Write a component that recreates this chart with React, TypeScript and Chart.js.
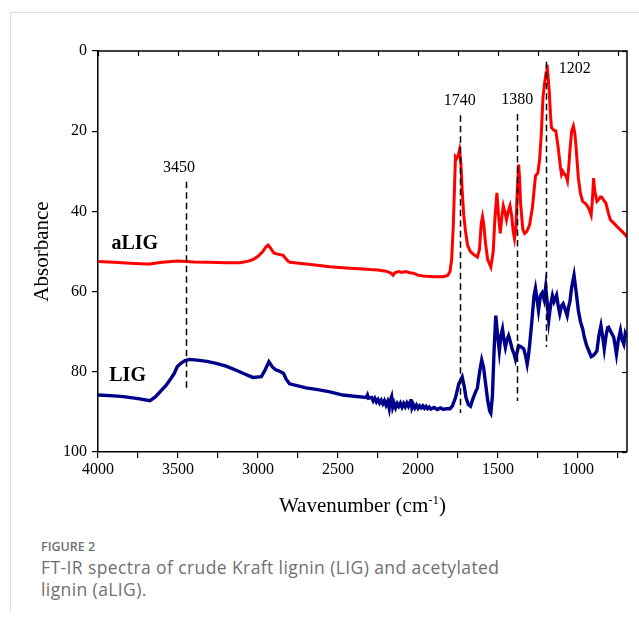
import React, { useEffect, useRef } from "react";
import { Chart, registerables } from "chart.js";

Chart.register(...registerables);

// Acetylated lignin (aLIG) spectrum
const aligWavenumber = [
  4000, 3900, 3800, 3700, 3675, 3600, 3500, 3400, 3300, 3200, 3112, 3060, 3031, 3000, 2970, 2950, 2937, 2925,
  2900, 2881, 2860, 2844, 2830, 2810, 2800, 2700, 2631, 2550, 2450, 2319, 2300, 2250, 2200, 2170, 2156, 2145,
  2120, 2100, 2080, 2050, 2030, 2000, 1969, 1900, 1844, 1815, 1800, 1790, 1780, 1772, 1766, 1758, 1750, 1741,
  1732, 1724, 1714, 1703, 1690, 1672, 1650, 1629, 1616, 1605, 1597, 1590, 1578, 1565, 1545, 1530, 1520, 1507,
  1497, 1486, 1475, 1467, 1458, 1447, 1436, 1425, 1415, 1405, 1397, 1388, 1380, 1371, 1365, 1359, 1345, 1334,
  1320, 1303, 1285, 1266, 1251, 1240, 1230, 1219, 1209, 1200, 1194, 1188, 1180, 1172, 1166, 1150, 1139, 1124,
  1110, 1103, 1095, 1086, 1075, 1066, 1058, 1051, 1040, 1029, 1020, 1012, 998, 985, 971, 955, 946, 930, 918,
  910, 903, 895, 882, 870, 860, 851, 840, 826, 810, 798, 780, 756, 730, 710, 694,
];
const aligAbsorbance = [
  52.5, 52.7, 52.9, 53.1, 53.1, 52.7, 52.4, 52.6, 52.7, 52.8, 52.8, 52.4, 52.0, 51.2, 50.0, 48.8, 48.4, 49.0,
  50.4, 50.6, 50.8, 50.9, 51.6, 52.5, 52.7, 53.1, 53.4, 53.8, 54.1, 54.4, 54.5, 54.6, 54.9, 55.4, 55.9, 55.3,
  55.0, 55.2, 55.0, 55.3, 55.4, 55.9, 56.1, 56.3, 56.3, 56.0, 55.0, 52.0, 44.0, 34.0, 26.4, 26.8, 26.2, 24.7,
  28.0, 34.9, 41.0, 45.0, 48.5, 50.1, 50.8, 51.4, 49.5, 43.0, 41.3, 43.0, 48.0, 52.0, 53.9, 50.0, 42.0, 35.4,
  41.0, 45.5, 41.0, 38.6, 40.0, 42.1, 40.0, 38.6, 41.0, 45.0, 46.8, 44.0, 35.0, 28.3, 32.0, 38.0, 44.5, 45.5,
  45.0, 43.4, 39.0, 31.2, 30.4, 27.0, 21.0, 11.5, 8.0, 5.5, 3.4, 6.0, 10.0, 16.0, 19.1, 19.8, 19.9, 24.1,
  29.0, 30.8, 30.0, 30.7, 31.2, 32.4, 29.0, 24.9, 20.0, 18.7, 20.5, 24.1, 31.7, 35.5, 37.5, 38.0, 38.4, 39.5, 40.9,
  37.0, 31.7, 35.0, 37.5, 37.0, 36.4, 36.5, 37.2, 37.9, 40.5, 42.1, 42.8, 43.8, 44.8, 45.6, 46.4,
];

// Crude Kraft lignin (LIG) spectrum
const ligWavenumber = [
  4000, 3900, 3842, 3750, 3675, 3640, 3601, 3575, 3550, 3525, 3504, 3480, 3456, 3428, 3380, 3320, 3261, 3200,
  3136, 3080, 3032, 2979, 2955, 2932, 2910, 2890, 2875, 2850, 2840, 2825, 2803, 2750, 2700, 2636, 2550, 2470,
  2400, 2323, 2316, 2310, 2290, 2280, 2270, 2260, 2250, 2240, 2230, 2220, 2210, 2200, 2190, 2180, 2172, 2165,
  2158, 2150, 2140, 2130, 2120, 2110, 2100, 2090, 2080, 2070, 2060, 2050, 2044, 2038, 2030, 2020, 2010, 2000,
  1990, 1980, 1970, 1960, 1950, 1940, 1930, 1920, 1900, 1880, 1860, 1840, 1824, 1800, 1785, 1766, 1745, 1724,
  1712, 1700, 1685, 1672, 1655, 1640, 1629, 1615, 1602, 1590, 1577, 1565, 1552, 1545, 1535, 1525, 1514, 1505,
  1492, 1482, 1472, 1463, 1454, 1444, 1434, 1423, 1412, 1400, 1391, 1380, 1371, 1355, 1339, 1328, 1318, 1310,
  1303, 1290, 1275, 1266, 1256, 1247, 1235, 1224, 1212, 1202, 1192, 1183, 1170, 1160, 1150, 1134, 1124, 1114,
  1103, 1093, 1080, 1068, 1060, 1051, 1040, 1025, 1012, 998, 985, 971, 960, 946, 930, 918, 908, 895, 882, 870,
  857, 845, 836, 825, 815, 809, 795, 777, 768, 760, 748, 735, 725, 714, 705, 694,
];
const ligAbsorbance = [
  85.8, 86.0, 86.2, 86.7, 87.2, 86.2, 84.5, 83.4, 82.0, 80.5, 78.7, 77.8, 77.2, 76.9, 77.1, 77.4, 77.9, 78.6,
  79.6, 80.6, 81.4, 81.2, 79.5, 77.5, 78.8, 79.5, 79.7, 80.2, 80.4, 81.8, 83.0, 83.5, 84.0, 84.4, 85.0, 85.8,
  86.1, 86.4, 85.8, 86.6, 86.4, 87.3, 86.6, 87.5, 86.9, 87.8, 87.1, 88.0, 87.2, 88.3, 87.4, 89.2, 87.0, 86.2,
  88.8, 87.8, 89.0, 87.9, 88.6, 87.8, 88.8, 87.9, 88.7, 87.8, 88.6, 87.6, 86.8, 88.9, 88.1, 89.0, 88.3, 89.1,
  88.5, 89.0, 88.5, 89.1, 88.6, 89.2, 88.8, 89.3, 88.9, 89.4, 89.0, 89.4, 89.2, 89.2, 88.5, 86.5, 83.0, 81.3,
  83.5, 86.5, 88.2, 88.6, 86.5, 85.0, 84.0, 80.0, 77.1, 79.0, 83.2, 87.0, 89.8, 90.3, 86.0, 75.0, 66.0, 70.0,
  74.8, 71.0, 69.3, 72.0, 73.9, 72.0, 71.0, 72.5, 74.3, 75.5, 76.9, 75.0, 73.5, 73.8, 74.3, 76.0, 78.1, 76.0,
  73.5, 68.0, 61.0, 59.2, 62.0, 64.7, 61.0, 60.3, 62.0, 58.8, 63.0, 67.2, 63.0, 61.0, 62.5, 60.9, 63.5, 65.5,
  63.5, 63.0, 64.5, 66.0, 64.0, 62.6, 59.0, 55.9, 60.0, 64.7, 67.5, 69.3, 71.5, 73.5, 75.0, 76.2, 76.0, 75.5, 74.8, 71.0,
  68.5, 71.5, 74.3, 71.0, 69.0, 68.9, 70.0, 71.4, 73.5, 75.6, 72.0, 69.7, 72.0, 73.1, 70.5, 71.6,
];

// Axis ticks (every 250 cm-1 on x, labelled every 500; every 20 on y)
const xTickValues = [4000, 3750, 3500, 3250, 3000, 2750, 2500, 2250, 2000, 1750, 1500, 1250, 1000, 750];
const yTickValues = [0, 20, 40, 60, 80, 100];

// Band markers: wavenumber, dashed span (absorbance units) and label text
const markerWave = [3450, 1740, 1380, 1202];
const markerTop = [32.6, 16.0, 15.7, 2.7];
const markerBottom = [85.0, 90.3, 87.3, 73.8];
const markerText = ["3450", "1740", "1380", "1202"];

// Series names written beside the traces
const seriesNames = ["aLIG", "LIG"];
const seriesNameWave = [3770, 3815];
const seriesNameAbs = [48.0, 81.0];
const seriesColors = ["#ff0000", "#00008b"];

const SERIF = '"Liberation Serif", "Times New Roman", serif';

const decorPlugin = {
  id: "decor",
  afterDatasetsDraw(chart: any) {
    const { ctx, chartArea: a, scales } = chart;
    const x = scales.x;
    const y = scales.y;
    ctx.save();

    // dashed band markers
    ctx.strokeStyle = "#000";
    ctx.lineWidth = 1.5;
    ctx.setLineDash([6.5, 4]);
    markerWave.forEach((w, i) => {
      const px = Math.round(x.getPixelForValue(w)) + 0.5;
      ctx.beginPath();
      ctx.moveTo(px, y.getPixelForValue(markerTop[i]));
      ctx.lineTo(px, y.getPixelForValue(markerBottom[i]));
      ctx.stroke();
    });
    ctx.setLineDash([]);

    // marker labels
    ctx.fillStyle = "#000";
    ctx.font = `16px ${SERIF}`;
    ctx.textAlign = "center";
    ctx.textBaseline = "middle";
    markerWave.forEach((w, i) => {
      const px = x.getPixelForValue(w);
      const py = y.getPixelForValue(markerTop[i]);
      if (markerText[i] === "1202") {
        ctx.fillText(markerText[i], px + 29, py + 7);
      } else {
        ctx.fillText(markerText[i], px - (i === 0 ? 7 : 0), py - 14);
      }
    });

    // series names
    ctx.font = `bold 20px ${SERIF}`;
    seriesNames.forEach((name, i) => {
      ctx.fillText(name, x.getPixelForValue(seriesNameWave[i]), y.getPixelForValue(seriesNameAbs[i]));
    });

    // top and right frame with inward ticks
    ctx.strokeStyle = "#000";
    ctx.lineWidth = 1.5;
    ctx.beginPath();
    ctx.moveTo(a.left, a.top);
    ctx.lineTo(a.right, a.top);
    ctx.lineTo(a.right, a.bottom);
    ctx.stroke();
    ctx.lineWidth = 1.2;
    x.ticks.forEach((t: any) => {
      const px = Math.round(x.getPixelForValue(t.value)) + 0.5;
      ctx.beginPath();
      ctx.moveTo(px, a.top);
      ctx.lineTo(px, a.top + 5);
      ctx.stroke();
    });
    y.ticks.forEach((t: any) => {
      const py = Math.round(y.getPixelForValue(t.value)) + 0.5;
      ctx.beginPath();
      ctx.moveTo(a.right, py);
      ctx.lineTo(a.right - 5, py);
      ctx.stroke();
    });

    // axis titles
    ctx.fillStyle = "#000";
    ctx.textBaseline = "alphabetic";
    ctx.textAlign = "left";
    const big = `21px ${SERIF}`;
    const small = `13px ${SERIF}`;
    const p1 = "Wavenumber (cm";
    const p2 = "-1";
    const p3 = ")";
    ctx.font = big;
    const w1 = ctx.measureText(p1).width;
    const w3 = ctx.measureText(p3).width;
    ctx.font = small;
    const w2 = ctx.measureText(p2).width;
    const total = w1 + w2 + w3;
    const cx = (a.left + a.right) / 2;
    let sx = cx - total / 2;
    const base = 512;
    ctx.font = big;
    ctx.fillText(p1, sx, base);
    sx += w1;
    ctx.font = small;
    ctx.fillText(p2, sx, base - 8);
    sx += w2;
    ctx.font = big;
    ctx.fillText(p3, sx, base);

    ctx.save();
    ctx.translate(42, (a.top + a.bottom) / 2);
    ctx.rotate(-Math.PI / 2);
    ctx.textAlign = "center";
    ctx.textBaseline = "middle";
    ctx.font = big;
    ctx.fillText("Absorbance", 0, 0);
    ctx.restore();

    ctx.restore();
  },
};

export default function App() {
  const canvasRef = useRef<HTMLCanvasElement | null>(null);

  useEffect(() => {
    const canvas = canvasRef.current;
    if (!canvas) return;
    const tickFont = { family: SERIF, size: 16 };
    const chart = new Chart(canvas, {
      type: "line",
      data: {
        datasets: [
          {
            label: "aLIG",
            data: aligWavenumber.map((w, i) => ({ x: w, y: aligAbsorbance[i] })),
            borderColor: seriesColors[0],
            borderWidth: 3,
            pointRadius: 0,
            tension: 0,
            fill: false,
          },
          {
            label: "LIG",
            data: ligWavenumber.map((w, i) => ({ x: w, y: ligAbsorbance[i] })),
            borderColor: seriesColors[1],
            borderWidth: 3.4,
            pointRadius: 0,
            tension: 0,
            fill: false,
          },
        ],
      },
      options: {
        animation: false,
        responsive: false,
        devicePixelRatio: 1,
        layout: { padding: { top: 51, right: 12, left: 0, bottom: 0 } },
        plugins: { legend: { display: false }, tooltip: { enabled: false } },
        scales: {
          x: {
            type: "linear",
            min: 694,
            max: 4000,
            reverse: true,
            afterBuildTicks: (s: any) => {
              s.ticks = xTickValues.map((v) => ({ value: v }));
            },
            afterFit: (s: any) => {
              s.height = 78;
            },
            ticks: {
              autoSkip: false,
              maxRotation: 0,
              minRotation: 0,
              padding: 2,
              color: "#000",
              font: tickFont,
              callback: (v: any) => (Number(v) % 500 === 0 ? String(v) : ""),
            },
            grid: { drawOnChartArea: false, tickLength: 6, color: "#000", lineWidth: 1.2 },
            border: { color: "#000", width: 1.5 },
          },
          y: {
            type: "linear",
            min: 0,
            max: 100,
            reverse: true,
            afterBuildTicks: (s: any) => {
              s.ticks = yTickValues.map((v) => ({ value: v }));
            },
            afterFit: (s: any) => {
              s.width = 98;
            },
            ticks: { autoSkip: false, padding: 5, color: "#000", font: tickFont },
            grid: { drawOnChartArea: false, tickLength: 6, color: "#000", lineWidth: 1.2 },
            border: { color: "#000", width: 1.5 },
          },
        },
      },
      plugins: [decorPlugin],
    } as any);
    return () => chart.destroy();
  }, []);

  return (
    <div style={{ position: "absolute", left: 0, top: 0, width: 639, height: 623, background: "#fff", overflow: "hidden" }}>
      <div style={{ position: "absolute", left: 10, top: 12, width: 629, height: 0, borderTop: "1.5px solid #dcdcdc" }} />
      <div style={{ position: "absolute", left: 10, top: 12, width: 0, height: 600, borderLeft: "1.5px solid #dcdcdc" }} />
      <canvas ref={canvasRef} width={639} height={530} style={{ position: "absolute", left: 0, top: 0, width: 639, height: 530 }} />
      <div
        style={{
          position: "absolute",
          left: 41,
          top: 538,
          fontFamily: '"Open Sans", "Noto Sans", sans-serif',
          color: "#707070",
        }}
      >
        <div style={{ fontSize: 12.5, fontWeight: 600, lineHeight: "18px" }}>FIGURE 2</div>
        <div style={{ fontSize: 17.5, lineHeight: "22px", letterSpacing: "0.4px", width: 590, whiteSpace: "nowrap" }}>
          FT-IR spectra of crude Kraft lignin (LIG) and acetylated
          <br />
          lignin (aLIG).
        </div>
      </div>
    </div>
  );
}
